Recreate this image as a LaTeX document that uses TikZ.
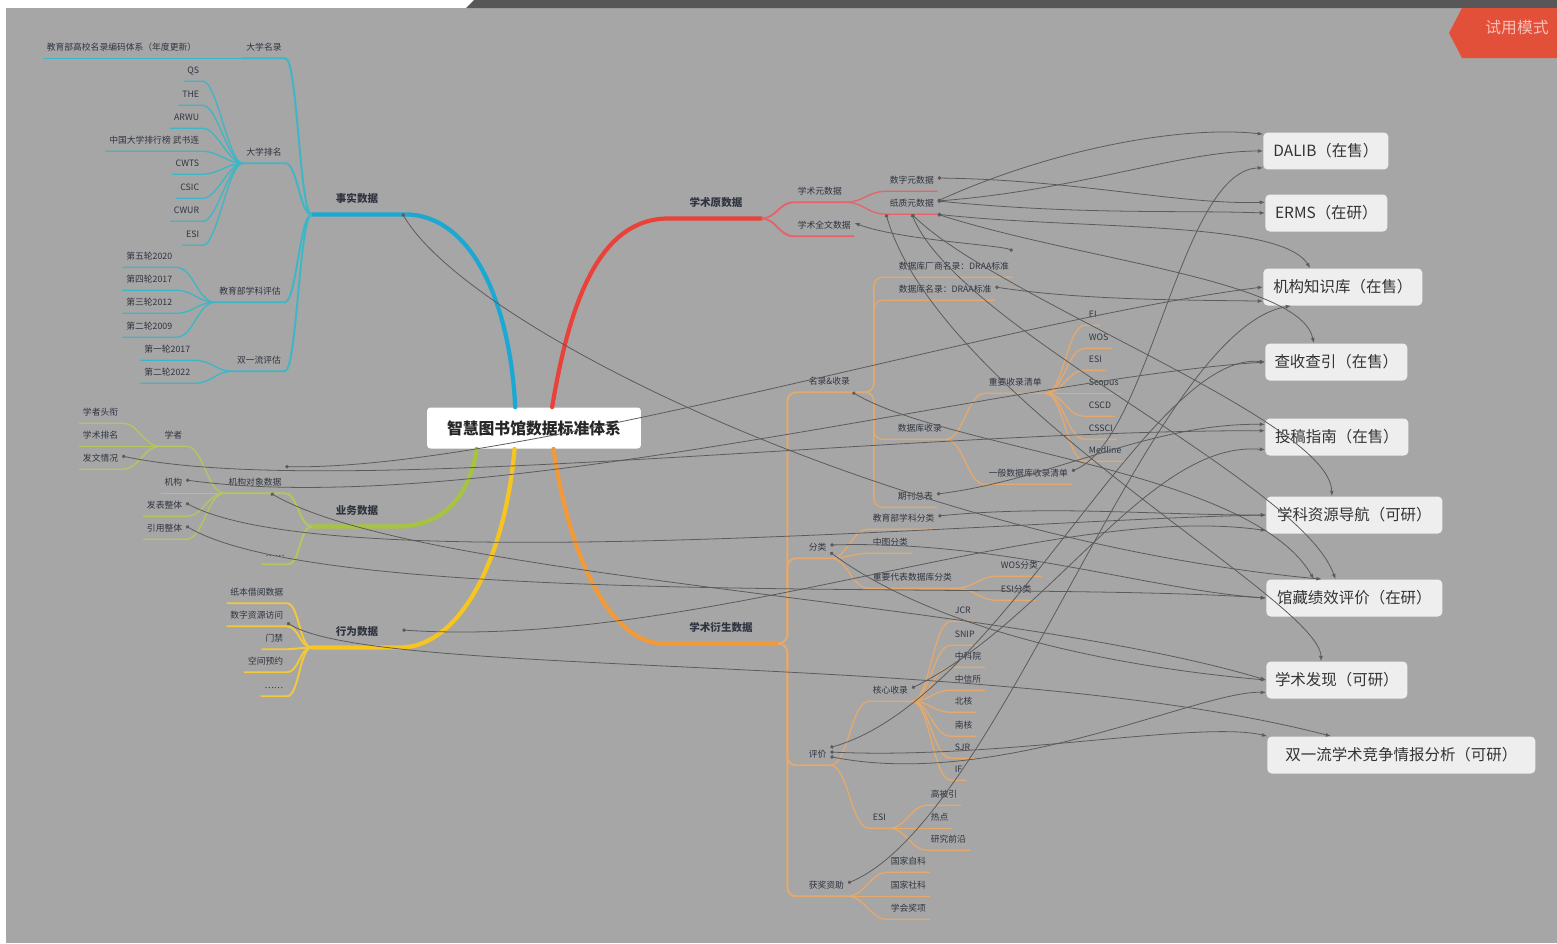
\documentclass[tikz,border=0pt]{standalone}
\usepackage{fontspec}
\setmainfont{Noto Sans CJK SC}
\usetikzlibrary{arrows.meta, positioning}

\definecolor{bg}{HTML}{A6A6A6}
\definecolor{ink}{HTML}{2F3440}
\definecolor{cymain}{HTML}{1BA8D2}
\definecolor{cysub}{HTML}{3DB6C6}
\definecolor{rdmain}{HTML}{E8423A}
\definecolor{rdsub}{HTML}{E5636B}
\definecolor{ormain}{HTML}{F29A38}
\definecolor{orsub}{HTML}{E3A96E}
\definecolor{yemain}{HTML}{F7C520}
\definecolor{yesub}{HTML}{F2C83C}
\definecolor{grmain}{HTML}{A6C440}
\definecolor{grsub}{HTML}{B6C65E}
\definecolor{relc}{HTML}{5B5B5B}
\definecolor{boxc}{HTML}{EEEEEE}
\definecolor{badge}{HTML}{E3503A}
\definecolor{topbar}{HTML}{575757}

\begin{document}
\begin{tikzpicture}[x=0.02cm, y=-0.02cm,
  leaf/.style={font=\fontsize{5}{6}\selectfont, text=ink, inner xsep=2pt, inner ysep=2.6pt, text height=0.8em, text depth=0.15em},
  topic/.style={font=\fontsize{6}{7}\selectfont\bfseries, text=ink, inner ysep=5pt, text height=0.8em, text depth=0.15em, minimum width=1.8cm},
  hub/.style={fill=white, rounded corners=2pt, font=\fontsize{9}{10}\selectfont\bfseries, text=black!85, minimum width=4.28cm, minimum height=0.82cm},
  prod/.style={fill=boxc, rounded corners=2.5pt, anchor=west, font=\fontsize{8.8}{10}\selectfont, text=black!80, minimum height=0.74cm},
  trunk/.style={line width=2.4pt, line cap=round},
  twig/.style={line width=1.1pt},
  leafline/.style={line width=0.75pt},
  rel/.style={draw=relc, line width=0.45pt, {Circle[length=2pt]}-{Latex[length=3pt,width=2.2pt]}},
]
\useasboundingbox (0,0) rectangle (1557,943);
\fill[white] (0,0) rectangle (1557,943);
\fill[bg] (6,8) rectangle (1557,943);
\fill[topbar] (466,8) -- (474,0) -- (1557,0) -- (1557,8) -- cycle;
\fill[badge] (1449,33) -- (1462,8) -- (1557,8) -- (1557,58) -- (1462,58) -- cycle;
\node[text=badge!35!white, font=\fontsize{9}{10}\selectfont] (trial) at (1517,28) {试用模式};

% centre
\node[hub] (hub) at (534,428) {智慧图书馆数据标准体系};

% fact data
\node[topic] (fact) at (357,197) {事实数据};
\node[leaf] (ulist) at (264,45) {大学名录};
\node[leaf, anchor=east] (ucode) at (200,45) {教育部高校名录编码体系（年度更新）};
\node[leaf] (urank) at (264,150) {大学排名};
\node[leaf, anchor=east] (qs) at (203,68) {QS};
\node[leaf, anchor=east] (the) at (203,92) {THE};
\node[leaf, anchor=east] (arwu) at (203,115) {ARWU};
\node[leaf, anchor=east] (cnrank) at (203,138) {中国大学排行榜 武书连};
\node[leaf, anchor=east] (cwts) at (203,161) {CWTS};
\node[leaf, anchor=east] (csic) at (203,185) {CSIC};
\node[leaf, anchor=east] (cwur) at (203,208) {CWUR};
\node[leaf, anchor=east] (esia) at (203,232) {ESI};
\node[leaf] (ueval) at (250,289) {教育部学科评估};
\node[leaf, anchor=east] (rfive) at (176,254) {第五轮2020};
\node[leaf, anchor=east] (rfour) at (176,277) {第四轮2017};
\node[leaf, anchor=east] (rthree) at (176,300) {第三轮2012};
\node[leaf, anchor=east] (rtwo) at (176,324) {第二轮2009};
\node[leaf] (dfc) at (259,358) {双一流评估};
\node[leaf, anchor=east] (dfcone) at (194,347) {第一轮2017};
\node[leaf, anchor=east] (dfctwo) at (194,370) {第二轮2022};

% business data
\node[topic] (work) at (357,509) {业务数据};
\node[leaf] (inst) at (255,480) {机构对象数据};
\node[leaf, anchor=east] (scholar) at (186,433) {学者};
\node[leaf, anchor=east] (org) at (186,480) {机构};
\node[leaf, anchor=east] (pub) at (186,503) {发表整体};
\node[leaf, anchor=east] (cite) at (186,526) {引用整体};
\node[leaf, anchor=east] (stitle) at (122,410) {学者头衔};
\node[leaf, anchor=east] (srank) at (122,433) {学术排名};
\node[leaf, anchor=east] (spaper) at (122,456) {发文情况};
\node[leaf] (wdots) at (275,551) {……};

% behaviour data
\node[topic] (beh) at (357,630) {行为数据};
\node[leaf, anchor=east] (loan) at (287,590) {纸本借阅数据};
\node[leaf, anchor=east] (dacc) at (287,613) {数字资源访问};
\node[leaf, anchor=east] (gate) at (287,636) {门禁};
\node[leaf, anchor=east] (space) at (287,659) {空间预约};
\node[leaf, anchor=east] (ydots) at (287,683) {……};

% original academic data
\node[topic] (acad) at (716,201) {学术原数据};
\node[leaf, anchor=west] (meta) at (794,189) {学术元数据};
\node[leaf, anchor=west] (full) at (794,223) {学术全文数据};
\node[leaf, anchor=west] (dmeta) at (886,178) {数字元数据};
\node[leaf, anchor=west] (pmeta) at (886,201) {纸质元数据};

% derived academic data
\node[topic, minimum width=2.4cm] (deriv) at (721,626) {学术衍生数据};
\node[leaf, anchor=west] (dir) at (805,379) {名录\&收录};
\node[leaf, anchor=west] (cls) at (805,545) {分类};
\node[leaf, anchor=west] (evl) at (805,752) {评价};
\node[leaf, anchor=west] (award) at (805,883) {获奖资助};
\node[leaf, anchor=west] (vendor) at (895,264) {数据库厂商名录：DRAA标准};
\node[leaf, anchor=west] (dblist) at (895,287) {数据库名录：DRAA标准};
\node[leaf, anchor=west] (dbinc) at (894,426) {数据库收录};
\node[leaf, anchor=west] (jtotal) at (894,494) {期刊总表};
\node[leaf, anchor=west] (keyinc) at (985,380) {重要收录清单};
\node[leaf, anchor=west] (geninc) at (985,471) {一般数据库收录清单};
\node[leaf, anchor=west] (ei) at (1085,312) {EI};
\node[leaf, anchor=west] (wos) at (1085,335) {WOS};
\node[leaf, anchor=west] (esib) at (1085,357) {ESI};
\node[leaf, anchor=west] (scopus) at (1085,380) {Scopus};
\node[leaf, anchor=west] (cscd) at (1085,403) {CSCD};
\node[leaf, anchor=west] (cssci) at (1085,426) {CSSCI};
\node[leaf, anchor=west] (medline) at (1085,448) {Medline};
\node[leaf, anchor=west] (moe) at (869,516) {教育部学科分类};
\node[leaf, anchor=west] (clc) at (869,540) {中图分类};
\node[leaf, anchor=west] (keydb) at (869,575) {重要代表数据库分类};
\node[leaf, anchor=west] (woscls) at (997,563) {WOS分类};
\node[leaf, anchor=west] (esicls) at (997,587) {ESI分类};
\node[leaf, anchor=west] (core) at (869,688) {核心收录};
\node[leaf, anchor=west] (esic) at (869,815) {ESI};
\node[leaf, anchor=west] (jcr) at (951,608) {JCR};
\node[leaf, anchor=west] (snip) at (951,632) {SNIP};
\node[leaf, anchor=west] (cas) at (951,654) {中科院};
\node[leaf, anchor=west] (istic) at (951,677) {中信所};
\node[leaf, anchor=west] (pku) at (951,699) {北核};
\node[leaf, anchor=west] (nju) at (951,723) {南核};
\node[leaf, anchor=west] (sjr) at (951,745) {SJR};
\node[leaf, anchor=west] (jif) at (951,767) {IF};
\node[leaf, anchor=west] (hc) at (927,792) {高被引};
\node[leaf, anchor=west] (hot) at (927,815) {热点};
\node[leaf, anchor=west] (front) at (927,837) {研究前沿};
\node[leaf, anchor=west] (nsfc) at (887,859) {国家自科};
\node[leaf, anchor=west] (nssf) at (887,883) {国家社科};
\node[leaf, anchor=west] (soc) at (887,906) {学会奖项};

% products
\node[prod, minimum width=2.5cm] (dalib) at (1263,151) {DALIB（在售）};
\node[prod, minimum width=2.44cm] (erms) at (1265,213) {ERMS（在研）};
\node[prod, minimum width=3.18cm] (ir) at (1263,287) {机构知识库（在售）};
\node[prod, minimum width=2.84cm] (chk) at (1265,362) {查收查引（在售）};
\node[prod, minimum width=2.86cm] (guide) at (1265,437) {投稿指南（在售）};
\node[prod, minimum width=3.52cm] (nav) at (1266,515) {学科资源导航（可研）};
\node[prod, minimum width=3.52cm] (perf) at (1266,598) {馆藏绩效评价（在研）};
\node[prod, minimum width=2.82cm] (disc) at (1266,680) {学术发现（可研）};
\node[prod, minimum width=5.36cm] (sfa) at (1267,755) {双一流学术竞争情报分析（可研）};

% cyan branch
\draw[trunk, cymain] (hub.132) .. controls (510,300) and (470,212) .. (fact.south east) -- (fact.south west);
\draw[twig, cysub] (fact.south west) .. controls +(-12,0) and +(12,0) .. (ulist.south east) -- (ulist.south west);
\draw[twig, cysub] (fact.south west) .. controls +(-12,0) and +(12,0) .. (urank.south east) -- (urank.south west);
\draw[twig, cysub] (fact.south west) .. controls +(-12,0) and +(12,0) .. (ueval.south east) -- (ueval.south west);
\draw[twig, cysub] (fact.south west) .. controls +(-12,0) and +(12,0) .. (dfc.south east) -- (dfc.south west);
\draw[leafline, cysub] (ulist.south west) -- (ucode.south east) -- (ucode.south west);
\draw[leafline, cysub] (urank.south west) .. controls +(-14,0) and +(14,0) .. (qs.south east) -- (qs.south west);
\draw[leafline, cysub] (urank.south west) .. controls +(-14,0) and +(14,0) .. (the.south east) -- (the.south west);
\draw[leafline, cysub] (urank.south west) .. controls +(-14,0) and +(14,0) .. (arwu.south east) -- (arwu.south west);
\draw[leafline, cysub] (urank.south west) .. controls +(-14,0) and +(14,0) .. (cnrank.south east) -- (cnrank.south west);
\draw[leafline, cysub] (urank.south west) .. controls +(-14,0) and +(14,0) .. (cwts.south east) -- (cwts.south west);
\draw[leafline, cysub] (urank.south west) .. controls +(-14,0) and +(14,0) .. (csic.south east) -- (csic.south west);
\draw[leafline, cysub] (urank.south west) .. controls +(-14,0) and +(14,0) .. (cwur.south east) -- (cwur.south west);
\draw[leafline, cysub] (urank.south west) .. controls +(-14,0) and +(14,0) .. (esia.south east) -- (esia.south west);
\draw[leafline, cysub] (ueval.south west) .. controls +(-18,0) and +(18,0) .. (rfive.south east) -- (rfive.south west);
\draw[leafline, cysub] (ueval.south west) .. controls +(-18,0) and +(18,0) .. (rfour.south east) -- (rfour.south west);
\draw[leafline, cysub] (ueval.south west) .. controls +(-18,0) and +(18,0) .. (rthree.south east) -- (rthree.south west);
\draw[leafline, cysub] (ueval.south west) .. controls +(-18,0) and +(18,0) .. (rtwo.south east) -- (rtwo.south west);
\draw[leafline, cysub] (dfc.south west) .. controls +(-18,0) and +(18,0) .. (dfcone.south east) -- (dfcone.south west);
\draw[leafline, cysub] (dfc.south west) .. controls +(-18,0) and +(18,0) .. (dfctwo.south east) -- (dfctwo.south west);

% green branch
\draw[trunk, grmain] (hub.200) .. controls (470,490) and (450,523) .. (work.south east) -- (work.south west);
\draw[twig, grsub] (work.south west) .. controls +(-12,0) and +(12,0) .. (inst.south east) -- (inst.south west);
\draw[twig, grsub] (work.south west) .. controls +(-12,0) and +(12,0) .. (wdots.south east) -- (wdots.south west);
\draw[leafline, grsub] (inst.south west) .. controls +(-18,0) and +(18,0) .. (scholar.south east) -- (scholar.south west);
\draw[leafline, grsub] (inst.south west) .. controls +(-18,0) and +(18,0) .. (org.south east) -- (org.south west);
\draw[leafline, grsub] (inst.south west) .. controls +(-18,0) and +(18,0) .. (pub.south east) -- (pub.south west);
\draw[leafline, grsub] (inst.south west) .. controls +(-18,0) and +(18,0) .. (cite.south east) -- (cite.south west);
\draw[leafline, grsub] (scholar.south west) .. controls +(-18,0) and +(18,0) .. (stitle.south east) -- (stitle.south west);
\draw[leafline, grsub] (scholar.south west) .. controls +(-18,0) and +(18,0) .. (srank.south east) -- (srank.south west);
\draw[leafline, grsub] (scholar.south west) .. controls +(-18,0) and +(18,0) .. (spaper.south east) -- (spaper.south west);

% yellow branch
\draw[trunk, yemain] (hub.227) .. controls (505,560) and (460,645) .. (beh.south east) -- (beh.south west);
\draw[twig, yesub] (beh.south west) .. controls +(-12,0) and +(12,0) .. (loan.south east) -- (loan.south west);
\draw[twig, yesub] (beh.south west) .. controls +(-12,0) and +(12,0) .. (dacc.south east) -- (dacc.south west);
\draw[twig, yesub] (beh.south west) .. controls +(-12,0) and +(12,0) .. (gate.south east) -- (gate.south west);
\draw[twig, yesub] (beh.south west) .. controls +(-12,0) and +(12,0) .. (space.south east) -- (space.south west);
\draw[twig, yesub] (beh.south west) .. controls +(-12,0) and +(12,0) .. (ydots.south east) -- (ydots.south west);

% red branch
\draw[trunk, rdmain] (hub.49) .. controls (570,300) and (600,217) .. (acad.south west) -- (acad.south east);
\draw[twig, rdsub] (acad.south east) .. controls +(15,0) and +(-15,0) .. (meta.south west) -- (meta.south east);
\draw[twig, rdsub] (acad.south east) .. controls +(15,0) and +(-15,0) .. (full.south west) -- (full.south east);
\draw[leafline, rdsub] (meta.south east) .. controls +(18,0) and +(-18,0) .. (dmeta.south west) -- (dmeta.south east);
\draw[leafline, rdsub] (meta.south east) .. controls +(18,0) and +(-18,0) .. (pmeta.south west) -- (pmeta.south east);

% orange branch
\draw[trunk, ormain] (hub.-47) .. controls (570,560) and (610,640) .. (deriv.south west) -- (deriv.south east);
\draw[twig, orsub, rounded corners=5pt] (deriv.south east) -- ++(6,0) |- (dir.south west) -- (dir.south east);
\draw[twig, orsub, rounded corners=5pt] (deriv.south east) -- ++(6,0) |- (cls.south west) -- (cls.south east);
\draw[twig, orsub, rounded corners=5pt] (deriv.south east) -- ++(6,0) |- (evl.south west) -- (evl.south east);
\draw[twig, orsub, rounded corners=5pt] (deriv.south east) -- ++(6,0) |- (award.south west) -- (award.south east);
\draw[leafline, orsub, rounded corners=5pt] (dir.south east) -- ++(20,0) |- (vendor.south west) -- (vendor.south east);
\draw[leafline, orsub, rounded corners=5pt] (dir.south east) -- ++(20,0) |- (dblist.south west) -- (dblist.south east);
\draw[leafline, orsub, rounded corners=5pt] (dir.south east) -- ++(20,0) |- (dbinc.south west) -- (dbinc.south east);
\draw[leafline, orsub, rounded corners=5pt] (dir.south east) -- ++(20,0) |- (jtotal.south west) -- (jtotal.south east);
\draw[leafline, orsub] (dbinc.south east) .. controls +(18,0) and +(-18,0) .. (keyinc.south west) -- (keyinc.south east);
\draw[leafline, orsub] (dbinc.south east) .. controls +(18,0) and +(-18,0) .. (geninc.south west) -- (geninc.south east);
\draw[leafline, orsub] (keyinc.south east) .. controls +(18,0) and +(-18,0) .. (ei.south west) -- (ei.south east);
\draw[leafline, orsub] (keyinc.south east) .. controls +(18,0) and +(-18,0) .. (wos.south west) -- (wos.south east);
\draw[leafline, orsub] (keyinc.south east) .. controls +(18,0) and +(-18,0) .. (esib.south west) -- (esib.south east);
\draw[leafline, orsub] (keyinc.south east) .. controls +(18,0) and +(-18,0) .. (scopus.south west) -- (scopus.south east);
\draw[leafline, orsub] (keyinc.south east) .. controls +(18,0) and +(-18,0) .. (cscd.south west) -- (cscd.south east);
\draw[leafline, orsub] (keyinc.south east) .. controls +(18,0) and +(-18,0) .. (cssci.south west) -- (cssci.south east);
\draw[leafline, orsub] (keyinc.south east) .. controls +(18,0) and +(-18,0) .. (medline.south west) -- (medline.south east);
\draw[leafline, orsub] (cls.south east) .. controls +(18,0) and +(-18,0) .. (moe.south west) -- (moe.south east);
\draw[leafline, orsub] (cls.south east) .. controls +(18,0) and +(-18,0) .. (clc.south west) -- (clc.south east);
\draw[leafline, orsub] (cls.south east) .. controls +(18,0) and +(-18,0) .. (keydb.south west) -- (keydb.south east);
\draw[leafline, orsub] (keydb.south east) .. controls +(18,0) and +(-18,0) .. (woscls.south west) -- (woscls.south east);
\draw[leafline, orsub] (keydb.south east) .. controls +(18,0) and +(-18,0) .. (esicls.south west) -- (esicls.south east);
\draw[leafline, orsub] (evl.south east) .. controls +(18,0) and +(-18,0) .. (core.south west) -- (core.south east);
\draw[leafline, orsub] (evl.south east) .. controls +(18,0) and +(-18,0) .. (esic.south west) -- (esic.south east);
\draw[leafline, orsub] (core.south east) .. controls +(18,0) and +(-18,0) .. (jcr.south west) -- (jcr.south east);
\draw[leafline, orsub] (core.south east) .. controls +(18,0) and +(-18,0) .. (snip.south west) -- (snip.south east);
\draw[leafline, orsub] (core.south east) .. controls +(18,0) and +(-18,0) .. (cas.south west) -- (cas.south east);
\draw[leafline, orsub] (core.south east) .. controls +(18,0) and +(-18,0) .. (istic.south west) -- (istic.south east);
\draw[leafline, orsub] (core.south east) .. controls +(18,0) and +(-18,0) .. (pku.south west) -- (pku.south east);
\draw[leafline, orsub] (core.south east) .. controls +(18,0) and +(-18,0) .. (nju.south west) -- (nju.south east);
\draw[leafline, orsub] (core.south east) .. controls +(18,0) and +(-18,0) .. (sjr.south west) -- (sjr.south east);
\draw[leafline, orsub] (core.south east) .. controls +(18,0) and +(-18,0) .. (jif.south west) -- (jif.south east);
\draw[leafline, orsub] (esic.south east) .. controls +(16,0) and +(-16,0) .. (hc.south west) -- (hc.south east);
\draw[leafline, orsub] (esic.south east) .. controls +(16,0) and +(-16,0) .. (hot.south west) -- (hot.south east);
\draw[leafline, orsub] (esic.south east) .. controls +(16,0) and +(-16,0) .. (front.south west) -- (front.south east);
\draw[leafline, orsub] (award.south east) .. controls +(16,0) and +(-16,0) .. (nsfc.south west) -- (nsfc.south east);
\draw[leafline, orsub] (award.south east) .. controls +(16,0) and +(-16,0) .. (nssf.south west) -- (nssf.south east);
\draw[leafline, orsub] (award.south east) .. controls +(16,0) and +(-16,0) .. (soc.south west) -- (soc.south east);

% relationships
\draw[rel] (fact.-20) .. controls (470,330) and (900,540) .. (perf.150);
\draw[rel] (spaper.east) .. controls (330,500) and (900,430) .. (guide.175);
\draw[rel] (inst.north east) .. controls (520,470) and (1000,320) .. (ir.west);
\draw[rel] (org.east) .. controls (480,520) and (1000,380) .. (chk.west);
\draw[rel] (inst.-40) .. controls (420,580) and (1000,600) .. (disc.west);
\draw[rel] (pub.east) .. controls (330,580) and (1000,520) .. (nav.west);
\draw[rel] (cite.east) .. controls (330,610) and (1000,580) .. (perf.west);
\draw[rel] (beh.east) .. controls (700,650) and (1050,500) .. (nav.190);
\draw[rel] (gate.north east) .. controls (380,680) and (1000,650) .. (sfa.165);
\draw[rel] (pmeta.east) .. controls (1050,150) and (1180,125) .. (dalib.165);
\draw[rel] (pmeta.east) .. controls (1080,190) and (1180,151) .. (dalib.west);
\draw[rel] (pmeta.east) .. controls (1080,215) and (1180,210) .. (erms.west);
\draw[rel] (dmeta.east) .. controls (1080,180) and (1180,205) .. (erms.170);
\draw[rel] (pmeta.south east) .. controls (1080,230) and (1280,220) .. (ir.150);
\draw[rel] (pmeta.south east) .. controls (1080,260) and (1300,280) .. (chk.140);
\draw[rel] (pmeta.south) .. controls (1000,300) and (1330,420) .. (nav.140);
\draw[rel] (pmeta.south) .. controls (960,330) and (1300,480) .. (perf.135);
\draw[rel] (pmeta.south west) .. controls (940,400) and (1320,600) .. (disc.130);
\draw[rel] (vendor.north east) .. controls (1000,245) and (900,240) .. (full.east);
\draw[rel] (dblist.east) .. controls (1080,300) and (1180,300) .. (ir.190);
\draw[rel] (dir.-30) .. controls (950,450) and (1250,470) .. (perf.155);
\draw[rel] (jtotal.east) .. controls (1050,480) and (1150,423) .. (guide.170);
\draw[rel] (moe.east) .. controls (1050,505) and (1150,515) .. (nav.west);
\draw[rel] (cls.east) .. controls (1000,540) and (1150,590) .. (perf.west);
\draw[rel] (cls.-30) .. controls (950,640) and (1150,670) .. (disc.west);
\draw[rel] (core.east) .. controls (1050,620) and (1150,440) .. (guide.190);
\draw[rel] (evl.20) .. controls (1000,700) and (1150,350) .. (chk.west);
\draw[rel] (evl.east) .. controls (1000,760) and (1200,720) .. (sfa.172);
\draw[rel] (evl.-20) .. controls (1000,790) and (1200,690) .. (disc.190);
\draw[rel] (award.east) .. controls (1000,820) and (1150,330) .. (ir.200);
\draw[rel] (geninc.east) .. controls (1150,440) and (1180,170) .. (dalib.195);
\end{tikzpicture}
\end{document}
